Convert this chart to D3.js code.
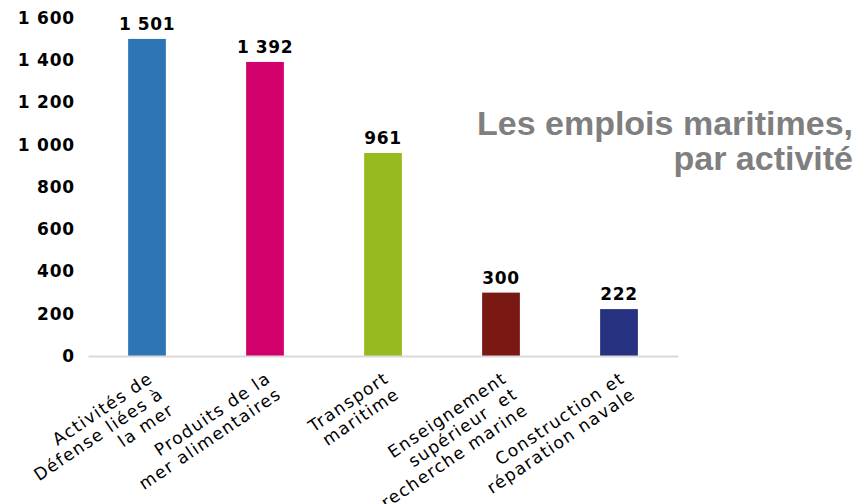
<!DOCTYPE html>
<html>
<head>
<meta charset="utf-8">
<script src="https://cdn.jsdelivr.net/npm/d3@7"></script>
<style>
  body { margin: 0; background: #fff; }
  svg { display: block; }
</style>
</head>
<body>
<div id="chart"></div>
<script>
// chart data
const categories = ["defense", "produits", "transport", "enseignement", "construction"];
const labelLines = [
    ["Activités de", "Défense liées à", "la mer"],
    ["Produits de la", "mer alimentaires"],
    ["Transport", "maritime"],
    ["Enseignement", "supérieur  et", "recherche marine"],
    ["Construction et", "réparation navale"]
];
const values = [1501, 1392, 961, 300, 222];
const barColors = ["#2e75b6", "#d1006b", "#97bb1f", "#7a1914", "#26317f"];
const yTicks = [0, 200, 400, 600, 800, 1000, 1200, 1400, 1600];
const titleLines = ["Les emplois maritimes,", "par activité"];

const width = 862;
const height = 504;
const margin = {left: 88, right: 184, top: 18, bottom: 148};

const svg = d3.select("#chart")
    .append("svg")
    .attr("width", width)
    .attr("height", height);

// "1 600" style numbers
const fmt = v => d3.format(",")(v).replace(/,/g, " ");

const xScale = d3.scaleBand()
    .domain(categories)
    .range([margin.left, width - margin.right])
    .paddingInner(0.68)
    .paddingOuter(0.34);

const yScale = d3.scaleLinear()
    .domain([0, 1600])
    .range([height - margin.bottom, margin.top]);

const baseY = yScale(0);

// Y axis (labels only)
const yAxis = svg.append("g")
    .attr("transform", `translate(${margin.left},0)`)
    .call(d3.axisLeft(yScale).tickValues(yTicks).tickSize(0).tickPadding(13).tickFormat(fmt));
yAxis.select(".domain").remove();
yAxis.selectAll("text")
    .style("font-family", "'DejaVu Sans', sans-serif")
    .style("font-weight", "bold")
    .style("font-size", "17px")
    .style("letter-spacing", "0.8px")
    .attr("fill", "#000");

// Bars
svg.selectAll(".bar")
    .data(values)
    .enter()
    .append("rect")
    .attr("class", "bar")
    .attr("x", (d, i) => xScale(categories[i]))
    .attr("y", d => yScale(d))
    .attr("width", xScale.bandwidth())
    .attr("height", d => baseY - yScale(d))
    .attr("fill", (d, i) => barColors[i]);

// X axis baseline + labels
const xAxis = svg.append("g")
    .attr("transform", `translate(0,${baseY})`)
    .call(d3.axisBottom(xScale).tickSize(0).tickFormat(""));
xAxis.select(".domain")
    .attr("stroke", "#d9d9d9")
    .attr("stroke-width", 2);
xAxis.selectAll(".tick text").remove();

xAxis.selectAll(".tick")
    .append("text")
    .attr("transform", "translate(7,25) rotate(-34)")
    .attr("text-anchor", "end")
    .style("font-family", "'DejaVu Sans', sans-serif")
    .style("font-size", "17px")
    .style("letter-spacing", "1.4px")
    .attr("fill", "#000")
    .each(function(d, i) {
        const t = d3.select(this);
        labelLines[i].forEach((line, j) => {
            t.append("tspan")
                .attr("x", 0)
                .attr("y", j * 19)
                .style("white-space", "pre")
                .text(line);
        });
    });

// Value labels
svg.selectAll(".val")
    .data(values)
    .enter()
    .append("text")
    .attr("class", "val")
    .attr("x", (d, i) => xScale(categories[i]) + xScale.bandwidth() / 2)
    .attr("y", d => yScale(d) - 9)
    .attr("text-anchor", "middle")
    .style("font-family", "'DejaVu Sans', sans-serif")
    .style("font-weight", "bold")
    .style("font-size", "17px")
    .style("letter-spacing", "0.6px")
    .attr("fill", "#000")
    .text(d => fmt(d));

// Title
svg.selectAll(".title")
    .data(titleLines)
    .enter()
    .append("text")
    .attr("class", "title")
    .attr("x", 853)
    .attr("y", (d, i) => 135 + i * 35)
    .attr("text-anchor", "end")
    .style("font-family", "'Liberation Sans', Arial, sans-serif")
    .style("font-weight", "bold")
    .style("font-size", "34px")
    .attr("fill", "#7f7f7f")
    .text(d => d);
</script>
</body>
</html>
